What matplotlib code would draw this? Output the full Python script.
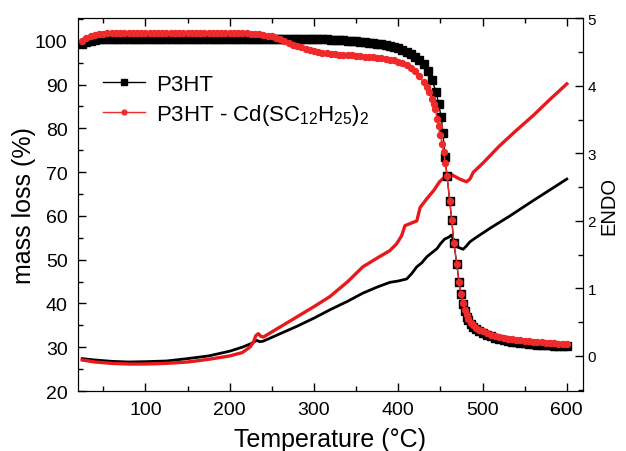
import matplotlib
matplotlib.use("Agg")
import matplotlib.pyplot as plt
from matplotlib.ticker import MultipleLocator

plt.rcParams['font.family'] = ['Liberation Sans', 'DejaVu Sans']
plt.rcParams['mathtext.fontset'] = 'custom'
plt.rcParams['mathtext.rm'] = 'Liberation Sans'
plt.rcParams['mathtext.it'] = 'Liberation Sans'

# ---- mass loss (left axis) ----
t_mass_p3ht = [25, 30, 35, 40, 45, 50, 55, 60, 65, 70, 75, 80, 85, 90, 95, 100, 105, 110, 115, 120,
               125, 130, 135, 140, 145, 150, 155, 160, 165, 170, 175, 180, 185, 190, 195, 200,
               205, 210, 215, 220, 225, 230, 235, 240, 245, 250, 255, 260, 265, 270, 275, 280,
               285, 290, 295, 300, 305, 310, 315, 320, 325, 330, 335, 340, 345, 350, 355, 360,
               365, 370, 375, 380, 385, 390, 395, 400, 405, 410, 415, 420, 425, 430, 435, 440,
               445, 448, 451, 453, 455.5, 458, 461, 463.5, 466, 469.5, 472, 474.5, 477, 479, 481,
               483, 486, 489, 492, 496, 500, 505, 510, 515, 520, 525, 530, 535, 540, 545, 550,
               555, 560, 565, 570, 575, 580, 585, 590, 595, 600]
mass_p3ht = [99.2, 99.7, 100.0, 100.2, 100.3, 100.4, 100.5, 100.5, 100.5, 100.5, 100.5, 100.5, 100.5, 100.5, 100.5, 100.5, 100.5, 100.5, 100.5, 100.5,
             100.5, 100.5, 100.5, 100.5, 100.5, 100.5, 100.5, 100.5, 100.5, 100.5, 100.5, 100.5, 100.5, 100.5, 100.5, 100.5,
             100.5, 100.5, 100.5, 100.5, 100.5, 100.5, 100.5, 100.5, 100.5, 100.5, 100.5, 100.5, 100.5, 100.4, 100.4, 100.4,
             100.4, 100.4, 100.4, 100.4, 100.3, 100.3, 100.3, 100.2, 100.2, 100.1, 100.1, 100.0, 99.9, 99.9, 99.8, 99.7,
             99.6, 99.5, 99.3, 99.2, 99.0, 98.8, 98.5, 98.3, 97.9, 97.5, 97.0, 96.4, 95.6, 94.6, 93.0, 91.0,
             88.3, 85.5, 82.5, 79.0, 73.5, 69.0, 63.5, 59.0, 53.8, 49.0, 45.0, 42.2, 39.9, 38.2, 37.0,
             36.2, 35.3, 34.7, 34.2, 33.7, 33.3, 32.9, 32.5, 32.2, 31.9, 31.7, 31.5, 31.3, 31.2, 31.0, 30.9,
             30.8, 30.7, 30.6, 30.5, 30.45, 30.4, 30.35, 30.3, 30.25, 30.2]

t_mass_cd = [25, 30, 35, 40, 45, 50, 55, 60, 65, 70, 75, 80, 85, 90, 95, 100, 105, 110, 115, 120,
             125, 130, 135, 140, 145, 150, 155, 160, 165, 170, 175, 180, 185, 190, 195, 200,
             205, 210, 215, 220, 225, 230, 235, 240, 245, 250, 255, 260, 265, 270, 275, 280,
             285, 290, 295, 300, 305, 310, 315, 320, 325, 330, 335, 340, 345, 350, 355, 360,
             365, 370, 375, 380, 385, 390, 395, 400, 405, 410, 415, 420, 425, 430, 434, 437,
             440, 442, 444, 446, 448, 450, 452, 454, 456, 458, 461, 463.5, 466, 469.5, 472, 474.5,
             477, 479, 481, 483, 486, 489, 492, 496, 500, 505, 510, 515, 520, 525, 530, 535, 540,
             545, 550, 555, 560, 565, 570, 575, 580, 585, 590, 595, 600]
mass_cd = [100.0, 100.7, 101.1, 101.3, 101.5, 101.6, 101.7, 101.7, 101.7, 101.7, 101.7, 101.7, 101.7, 101.7, 101.7, 101.7, 101.7, 101.7, 101.7, 101.7,
           101.7, 101.7, 101.7, 101.7, 101.7, 101.7, 101.7, 101.7, 101.7, 101.7, 101.7, 101.7, 101.7, 101.7, 101.7, 101.7,
           101.7, 101.7, 101.7, 101.7, 101.6, 101.6, 101.5, 101.4, 101.2, 101.0, 100.7, 100.3, 99.9, 99.5, 99.1, 98.8,
           98.5, 98.2, 97.9, 97.7, 97.5, 97.3, 97.1, 97.0, 96.9, 96.8, 96.75, 96.7, 96.65, 96.6, 96.5, 96.4,
           96.3, 96.2, 96.1, 96.0, 95.8, 95.7, 95.5, 95.2, 94.9, 94.5, 93.8, 93.0, 91.9, 90.6, 89.5, 88.2,
           86.6, 85.6, 84.5, 82.2, 80.5, 78.5, 76.5, 74.5, 72.0, 69.0, 63.5, 59.0, 53.8, 49.0, 45.0, 42.2,
           40.0, 38.4, 37.3, 36.5, 35.6, 35.0, 34.5, 34.0, 33.6, 33.2, 32.9, 32.6, 32.3, 32.1, 31.9, 31.8, 31.7,
           31.6, 31.5, 31.4, 31.3, 31.2, 31.1, 31.0, 30.95, 30.9, 30.8, 30.75, 30.7]

# ---- ENDO (right axis) ----
t_endo_p3ht = [25, 40, 60, 80, 100, 125, 150, 175, 200, 215, 225, 232, 236, 240, 260, 280, 300, 320,
               340, 358, 375, 390, 400, 410, 416, 422, 428, 434, 440, 446, 450, 455, 460, 463, 467,
               471, 477, 481, 485, 493, 510, 532, 560, 600]
endo_p3ht = [-0.04, -0.06, -0.08, -0.09, -0.085, -0.075, -0.04, 0.0, 0.07, 0.13, 0.18, 0.23, 0.21, 0.22,
             0.33, 0.44, 0.56, 0.69, 0.81, 0.93, 1.02, 1.09, 1.11, 1.14, 1.22, 1.32, 1.38, 1.47, 1.53,
             1.59, 1.66, 1.73, 1.76, 1.79, 1.69, 1.61, 1.58, 1.63, 1.69, 1.76, 1.9, 2.07, 2.3, 2.62]

t_endo_cd = [25, 40, 60, 80, 100, 125, 150, 175, 200, 215, 224, 228, 231, 234, 237, 240, 260, 280, 300,
             319, 340, 358, 375, 390, 398, 404, 408, 414, 422, 426, 434, 442, 449, 456, 461, 467, 473,
             481, 485, 489, 500, 520, 540, 560, 580, 600]
endo_cd = [-0.06, -0.09, -0.11, -0.12, -0.12, -0.11, -0.09, -0.05, 0.0, 0.05, 0.13, 0.2, 0.3, 0.33,
           0.29, 0.28, 0.43, 0.58, 0.73, 0.88, 1.1, 1.32, 1.45, 1.56, 1.66, 1.78, 1.93, 1.96, 2.0,
           2.2, 2.33, 2.45, 2.58, 2.66, 2.70, 2.66, 2.62, 2.58, 2.62, 2.72, 2.85, 3.11, 3.34, 3.56,
           3.8, 4.03]

label_p3ht = 'P3HT'
label_cd = 'P3HT - Cd(SC$_{12}$H$_{25}$)$_2$'

fig = plt.figure(figsize=(6.26, 4.52), dpi=100)
ax = fig.add_axes([0.1246, 0.1327, 0.8064, 0.8243])
ax2 = ax.twinx()

# ENDO curves
ax2.plot(t_endo_p3ht, endo_p3ht, color='black', lw=2.0, zorder=2)
ax2.plot(t_endo_cd, endo_cd, color='#e8191c', lw=2.4, zorder=3)

# mass loss curves (drawn over)
ax.set_zorder(ax2.get_zorder() + 1)
ax.patch.set_visible(False)
ax.plot(t_mass_p3ht, mass_p3ht, color='black', lw=1.0, marker='s', ms=6.0, label=label_p3ht)
ax.plot(t_mass_cd, mass_cd, color='#ef2a2a', lw=1.0, marker='o', ms=4.3, label=label_cd)

ax.set_xlim(20, 619)
ax.set_ylim(20, 105.1)
ax2.set_ylim(-0.52, 5.0)

ax.xaxis.set_major_locator(MultipleLocator(100))
ax.xaxis.set_minor_locator(MultipleLocator(50))
ax.yaxis.set_major_locator(MultipleLocator(10))
ax.yaxis.set_minor_locator(MultipleLocator(5))
ax2.yaxis.set_major_locator(MultipleLocator(1))
ax2.yaxis.set_minor_locator(MultipleLocator(0.5))

ax.tick_params(axis='both', which='both', direction='in', top=True, labelsize=14)
ax.tick_params(which='major', length=6, width=1)
ax.tick_params(which='minor', length=3.5, width=1)
ax.tick_params(axis='x', which='major', pad=7)
ax.tick_params(axis='y', which='major', pad=7.5)
ax2.tick_params(axis='y', which='both', direction='in', labelsize=11)
ax2.tick_params(which='major', length=6, width=1)
ax2.tick_params(which='minor', length=3.5, width=1)

ax.set_xlabel('Temperature (°C)', fontsize=18, labelpad=7)
ax.set_ylabel('mass loss (%)', fontsize=18, labelpad=-1)
ax2.set_ylabel('ENDO', fontsize=14.5, labelpad=2)

leg = ax.legend(loc='upper left', bbox_to_anchor=(0.031, 0.875), frameon=False, fontsize=16,
                handlelength=1.9, handletextpad=0.5, labelspacing=0.32, markerscale=0.8,
                borderaxespad=0.0)

fig.savefig('out.png', dpi=100)
